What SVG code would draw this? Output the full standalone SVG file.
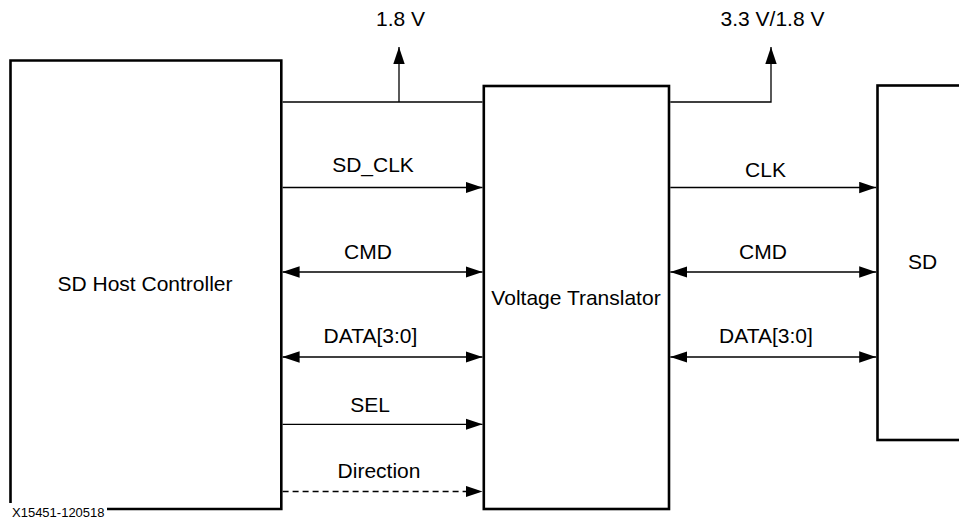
<svg xmlns="http://www.w3.org/2000/svg" width="959" height="520" viewBox="0 0 959 520">
<style>
.box{fill:#fff;stroke:#000;stroke-width:2.6}
.ln{fill:none;stroke:#000;stroke-width:1.3}
.dash{stroke-dasharray:6 4}
text{font-family:"Liberation Sans",Arial,sans-serif;fill:#000}
.lbl{font-size:21px;text-anchor:middle}
.fig{font-size:13px}
</style>
<defs>
<marker id="arr" markerUnits="userSpaceOnUse" markerWidth="17" markerHeight="12" refX="17" refY="6" orient="auto-start-reverse" viewBox="0 0 17 12">
<path d="M0,0.3 L17,6 L0,11.7 z" fill="#000"/>
</marker>
</defs>
<rect width="959" height="520" fill="#fff"/>
<g id="host">
<path class="box" d="M107,509 H281.3 V60.5 H10.5 V503"/>
<text class="lbl" x="145" y="291">SD Host Controller</text>
</g>
<g id="translator">
<rect class="box" x="483.8" y="86" width="185.2" height="423"/>
<text class="lbl" x="576" y="305">Voltage Translator</text>
</g>
<g id="sd">
<rect class="box" x="877.5" y="85.5" width="92" height="354.5"/>
<text class="lbl" x="922.5" y="269">SD</text>
</g>
<g id="connectors">
<path class="ln" d="M282.6,102 H482.5"/>
<path class="ln" d="M399,102 V47" marker-end="url(#arr)"/>
<path class="ln" d="M670.3,102 H771 V47" marker-end="url(#arr)"/>
<path class="ln" d="M282.6,187.5 H482.5" marker-end="url(#arr)"/>
<path class="ln" d="M282.6,272 H482.5" marker-start="url(#arr)" marker-end="url(#arr)"/>
<path class="ln" d="M282.6,357 H482.5" marker-start="url(#arr)" marker-end="url(#arr)"/>
<path class="ln" d="M282.6,424.3 H482.5" marker-end="url(#arr)"/>
<path class="ln dash" d="M282.6,491.5 H482.5" marker-end="url(#arr)"/>
<path class="ln" d="M670.3,187.5 H876.2" marker-end="url(#arr)"/>
<path class="ln" d="M670.3,272 H876.2" marker-start="url(#arr)" marker-end="url(#arr)"/>
<path class="ln" d="M670.3,357 H876.2" marker-start="url(#arr)" marker-end="url(#arr)"/>
</g>
<g id="labels">
<text class="lbl" x="400.5" y="25.5">1.8 V</text>
<text class="lbl" x="772.5" y="25.5">3.3 V/1.8 V</text>
<text class="lbl" x="373" y="172">SD_CLK</text>
<text class="lbl" x="368" y="259">CMD</text>
<text class="lbl" x="370.5" y="343">DATA[3:0]</text>
<text class="lbl" x="370" y="412">SEL</text>
<text class="lbl" x="379" y="478">Direction</text>
<text class="lbl" x="765.5" y="177">CLK</text>
<text class="lbl" x="763" y="259">CMD</text>
<text class="lbl" x="766" y="343">DATA[3:0]</text>
<text class="fig" x="12" y="516.5">X15451-120518</text>
</g>
</svg>
